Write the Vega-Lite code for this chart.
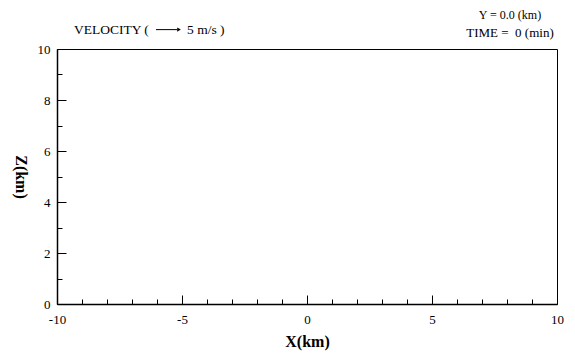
{
  "$schema": "https://vega.github.io/schema/vega-lite/v6.json",
  "width": 500,
  "height": 255,
  "autosize": "none",
  "padding": {"left": 57, "top": 49, "right": 18, "bottom": 52},
  "background": "white",
  "config": {
    "view": {"stroke": "black", "strokeWidth": 1},
    "font": "Liberation Serif",
    "axis": {
      "grid": false,
      "labelFont": "Liberation Serif",
      "labelFontSize": 13,
      "labelColor": "black",
      "labelFlush": false,
      "labelOverlap": false,
      "labelBound": false,
      "tickColor": "black",
      "tickWidth": 1,
      "domainColor": "black",
      "domainWidth": 1.5,
      "titleFont": "Liberation Serif",
      "titleFontWeight": "bold",
      "titleFontSize": 16,
      "titleColor": "black"
    }
  },
  "resolve": {"axis": {"x": "independent", "y": "independent"}},
  "layer": [
    {
      "data": {"values": [
        {"x": -9.32, "z": 10.59, "label": "VELOCITY ("},
        {"x": -4.8, "z": 10.59, "label": "5 m/s )"}
      ]},
      "mark": {"type": "text", "align": "left", "baseline": "alphabetic", "fontSize": 13.5, "font": "Liberation Serif", "color": "black"},
      "encoding": {
        "x": {"field": "x", "type": "quantitative",
          "scale": {"domain": [-10, 10], "nice": false, "zero": false},
          "axis": {"orient": "bottom", "values": [-10, -5, 0, 5, 10], "tickSize": -9, "labelPadding": 18, "labelBaseline": "top",
            "labelExpr": "datum.value + ''",
            "title": "X(km)", "titleAnchor": "middle", "titleY": 42, "titleBaseline": "alphabetic"}},
        "y": {"field": "z", "type": "quantitative",
          "scale": {"domain": [0, 10], "nice": false, "zero": false},
          "axis": {"orient": "left", "values": [0, 2, 4, 6, 8, 10], "tickSize": -9, "labelPadding": 16, "labelBaseline": "middle",
            "labelExpr": "datum.value + ''",
            "title": "Z(km)", "titleAngle": 90, "titleX": -37, "titleY": 127.5, "titleAlign": "center", "titleBaseline": "middle"}},
        "text": {"field": "label"}
      }
    },
    {
      "data": {"values": [
        {"x": 8.12, "z": 11.18, "label": "Y = 0.0 (km)", "size": 12},
        {"x": 8.12, "z": 10.47, "label": "TIME = \u00a00 (min)", "size": 13}
      ]},
      "mark": {"type": "text", "align": "center", "baseline": "alphabetic", "font": "Liberation Serif", "color": "black"},
      "encoding": {
        "x": {"field": "x", "type": "quantitative",
          "axis": {"orient": "bottom", "values": [-9, -8, -7, -6, -4, -3, -2, -1, 1, 2, 3, 4, 6, 7, 8, 9], "tickSize": -5, "labels": false, "domain": false, "title": null}},
        "y": {"field": "z", "type": "quantitative",
          "axis": {"orient": "left", "values": [1, 3, 5, 7, 9], "tickSize": -5, "labels": false, "domain": false, "title": null}},
        "size": {"field": "size", "type": "quantitative", "scale": null, "legend": null},
        "text": {"field": "label"}
      }
    },
    {
      "data": {"values": [{"x1": -6.04, "x2": -5.2, "z": 10.76}]},
      "mark": {"type": "rule", "color": "black", "strokeWidth": 1},
      "encoding": {
        "x": {"field": "x1", "type": "quantitative", "axis": null},
        "x2": {"field": "x2"},
        "y": {"field": "z", "type": "quantitative", "axis": null}
      }
    },
    {
      "data": {"values": [{"x": -5.12, "z": 10.76}]},
      "mark": {"type": "point", "shape": "triangle-right", "filled": true, "color": "black", "size": 18, "opacity": 1},
      "encoding": {
        "x": {"field": "x", "type": "quantitative", "axis": null},
        "y": {"field": "z", "type": "quantitative", "axis": null}
      }
    }
  ]
}
